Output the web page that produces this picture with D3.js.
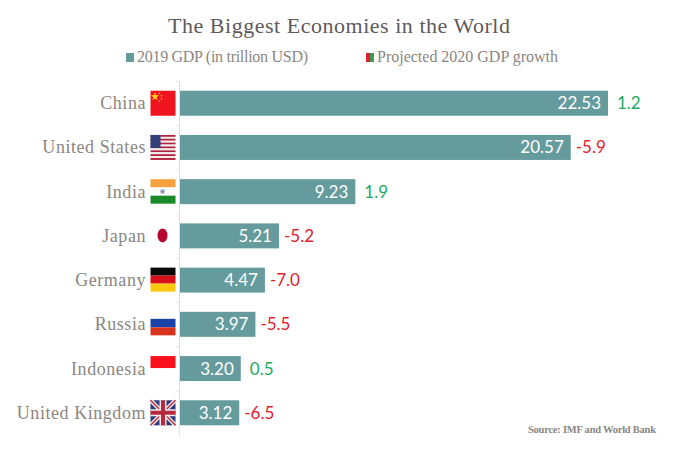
<!DOCTYPE html>
<html>
<head>
<meta charset="utf-8">
<script src="https://cdn.jsdelivr.net/npm/d3@7/dist/d3.min.js"></script>
<style>
  body { margin: 0; background: #fff; }
  svg { display: block; }
  .serif { font-family: "Liberation Serif", serif; }
  .sans { font-family: Lato, sans-serif; }
</style>
</head>
<body>
<script>
const width = 684;
const height = 452;

const countries = ["China", "United States", "India", "Japan", "Germany", "Russia", "Indonesia", "United Kingdom"];
const gdp2019 = [22.53, 20.57, 9.23, 5.21, 4.47, 3.97, 3.20, 3.12];
const growth2020 = [1.2, -5.9, 1.9, -5.2, -7.0, -5.5, 0.5, -6.5];

const teal = "#659b9d";
const green = "#1fa85f";
const red = "#e3202c";

const svg = d3.select("body")
    .append("svg")
    .attr("width", width)
    .attr("height", height);

const xScale = d3.scaleLinear()
    .domain([0, 22.53])
    .range([180, 608]);

const yScale = d3.scaleBand()
    .domain(countries)
    .range([81, 435])
    .paddingInner(0.435)
    .paddingOuter(0.22);

// title and legend
svg.append("text")
    .attr("class", "serif")
    .attr("x", 339)
    .attr("y", 33)
    .attr("text-anchor", "middle")
    .attr("textLength", 342)
    .attr("font-size", 22)
    .attr("fill", "#5f5a5a")
    .text("The Biggest Economies in the World");

svg.append("rect").attr("x", 126).attr("y", 53).attr("width", 8).attr("height", 9).attr("fill", teal);
svg.append("text")
    .attr("class", "serif")
    .attr("x", 137)
    .attr("y", 62)
    .attr("textLength", 171)
    .attr("font-size", 16)
    .attr("fill", "#8b8681")
    .text("2019 GDP (in trillion USD)");

svg.append("rect").attr("x", 366).attr("y", 53).attr("width", 4).attr("height", 9).attr("fill", red);
svg.append("rect").attr("x", 370).attr("y", 53).attr("width", 4).attr("height", 9).attr("fill", "#3f9a50");
svg.append("text")
    .attr("class", "serif")
    .attr("x", 377)
    .attr("y", 62)
    .attr("textLength", 181)
    .attr("font-size", 16)
    .attr("fill", "#8b8681")
    .text("Projected 2020 GDP growth");

// axis line on the left
const yAxis = d3.axisLeft(yScale).tickSize(0).tickFormat("");
const axisG = svg.append("g").attr("transform", "translate(179,0)").call(yAxis);
axisG.select(".domain").attr("stroke", "#dedede");

svg.append("g")
    .selectAll("line")
    .data(countries)
    .enter()
    .append("line")
    .attr("x1", 176)
    .attr("x2", 179)
    .attr("y1", function(d) { return yScale(d) - yScale.step() * 0.21; })
    .attr("y2", function(d) { return yScale(d) - yScale.step() * 0.21; })
    .attr("stroke", "#e6e6e6");

// bars
svg.selectAll(".bar")
    .data(countries)
    .enter()
    .append("rect")
    .attr("class", "bar")
    .attr("x", xScale(0))
    .attr("y", function(d) { return yScale(d); })
    .attr("width", function(d, i) { return xScale(gdp2019[i]) - xScale(0); })
    .attr("height", yScale.bandwidth())
    .attr("fill", teal);

// country names
svg.selectAll(".name")
    .data(countries)
    .enter()
    .append("text")
    .attr("class", "name serif")
    .attr("x", 146)
    .attr("y", function(d) { return yScale(d) + yScale.bandwidth() / 2 + 6; })
    .attr("text-anchor", "end")
    .attr("font-size", 18)
    .attr("letter-spacing", 0.55)
    .attr("fill", "#8b8681")
    .text(function(d) { return d; });

// gdp labels inside the bars
svg.selectAll(".gdp")
    .data(countries)
    .enter()
    .append("text")
    .attr("class", "gdp sans")
    .attr("x", function(d, i) { return xScale(gdp2019[i]) - 7; })
    .attr("y", function(d) { return yScale(d) + yScale.bandwidth() / 2 + 6; })
    .attr("text-anchor", "end")
    .attr("font-size", 17)
    .attr("fill", "#ffffff")
    .text(function(d, i) { return gdp2019[i].toFixed(2); });

// growth labels right of the bars
svg.selectAll(".growth")
    .data(countries)
    .enter()
    .append("text")
    .attr("class", "growth sans")
    .attr("x", function(d, i) { return xScale(gdp2019[i]) + (growth2020[i] < 0 ? 5 : 9); })
    .attr("y", function(d) { return yScale(d) + yScale.bandwidth() / 2 + 6; })
    .attr("font-size", 17)
    .attr("fill", function(d, i) { return growth2020[i] < 0 ? red : green; })
    .text(function(d, i) { return growth2020[i].toFixed(1); });

// flags, each drawn in a 25x25 box
const flagDrawers = {
  "China": function(g) {
    g.append("rect").attr("width", 25).attr("height", 25).attr("fill", "#f0141e");
    g.append("path").attr("d", d3.symbol(d3.symbolStar, 22)()).attr("transform", "translate(4.5,6)").attr("fill", "#f7d417");
    [[9, 2.5], [11, 5], [11, 8], [9, 10.5]].forEach(function(p) {
      g.append("circle").attr("cx", p[0]).attr("cy", p[1]).attr("r", 0.8).attr("fill", "#f7d417");
    });
  },
  "United States": function(g) {
    d3.range(13).forEach(function(i) {
      g.append("rect").attr("y", i * 25 / 13).attr("width", 25).attr("height", 25 / 13)
        .attr("fill", i % 2 ? "#f3eeee" : "#b0263f");
    });
    g.append("rect").attr("width", 10).attr("height", 13).attr("fill", "#34407a");
  },
  "India": function(g) {
    g.append("rect").attr("width", 25).attr("height", 8).attr("fill", "#f9a13f");
    g.append("rect").attr("y", 16.5).attr("width", 25).attr("height", 8).attr("fill", "#1a8a2a");
    g.append("circle").attr("cx", 12).attr("cy", 12.3).attr("r", 2.2).attr("fill", "#8d9bc0");
  },
  "Japan": function(g) {
    g.append("ellipse").attr("cx", 12).attr("cy", 12).attr("rx", 5).attr("ry", 7).attr("fill", "#b4082f");
  },
  "Germany": function(g) {
    g.append("rect").attr("width", 25).attr("height", 8).attr("fill", "#080808");
    g.append("rect").attr("y", 8).attr("width", 25).attr("height", 8).attr("fill", "#d6101a");
    g.append("rect").attr("y", 16).attr("width", 25).attr("height", 8).attr("fill", "#fcc910");
  },
  "Russia": function(g) {
    g.append("rect").attr("y", 7).attr("width", 25).attr("height", 8.5).attr("fill", "#1a42a8");
    g.append("rect").attr("y", 15.5).attr("width", 25).attr("height", 8).attr("fill", "#d8331f");
  },
  "Indonesia": function(g) {
    g.append("rect").attr("width", 25).attr("height", 12).attr("fill", "#f7101a");
  },
  "United Kingdom": function(g) {
    g.append("rect").attr("width", 25).attr("height", 25).attr("fill", "#2b3a78");
    g.append("path").attr("d", "M0,0L25,25M25,0L0,25").attr("stroke", "#f1ecec").attr("stroke-width", 4);
    g.append("path").attr("d", "M0,0L25,25M25,0L0,25").attr("stroke", "#b8283f").attr("stroke-width", 1.4);
    g.append("path").attr("d", "M12.5,0V25M0,12.5H25").attr("stroke", "#f1ecec").attr("stroke-width", 7);
    g.append("path").attr("d", "M12.5,0V25M0,12.5H25").attr("stroke", "#b8283f").attr("stroke-width", 4);
  }
};

countries.forEach(function(c) {
  const g = svg.append("g").attr("transform", "translate(150.5," + yScale(c) + ")");
  flagDrawers[c](g);
});

// source
svg.append("text")
    .attr("class", "serif")
    .attr("x", 528)
    .attr("y", 433)
    .attr("textLength", 128)
    .attr("font-size", 10.5)
    .attr("font-weight", "bold")
    .attr("fill", "#8b8681")
    .text("Source: IMF and World Bank");
</script>
</body>
</html>
